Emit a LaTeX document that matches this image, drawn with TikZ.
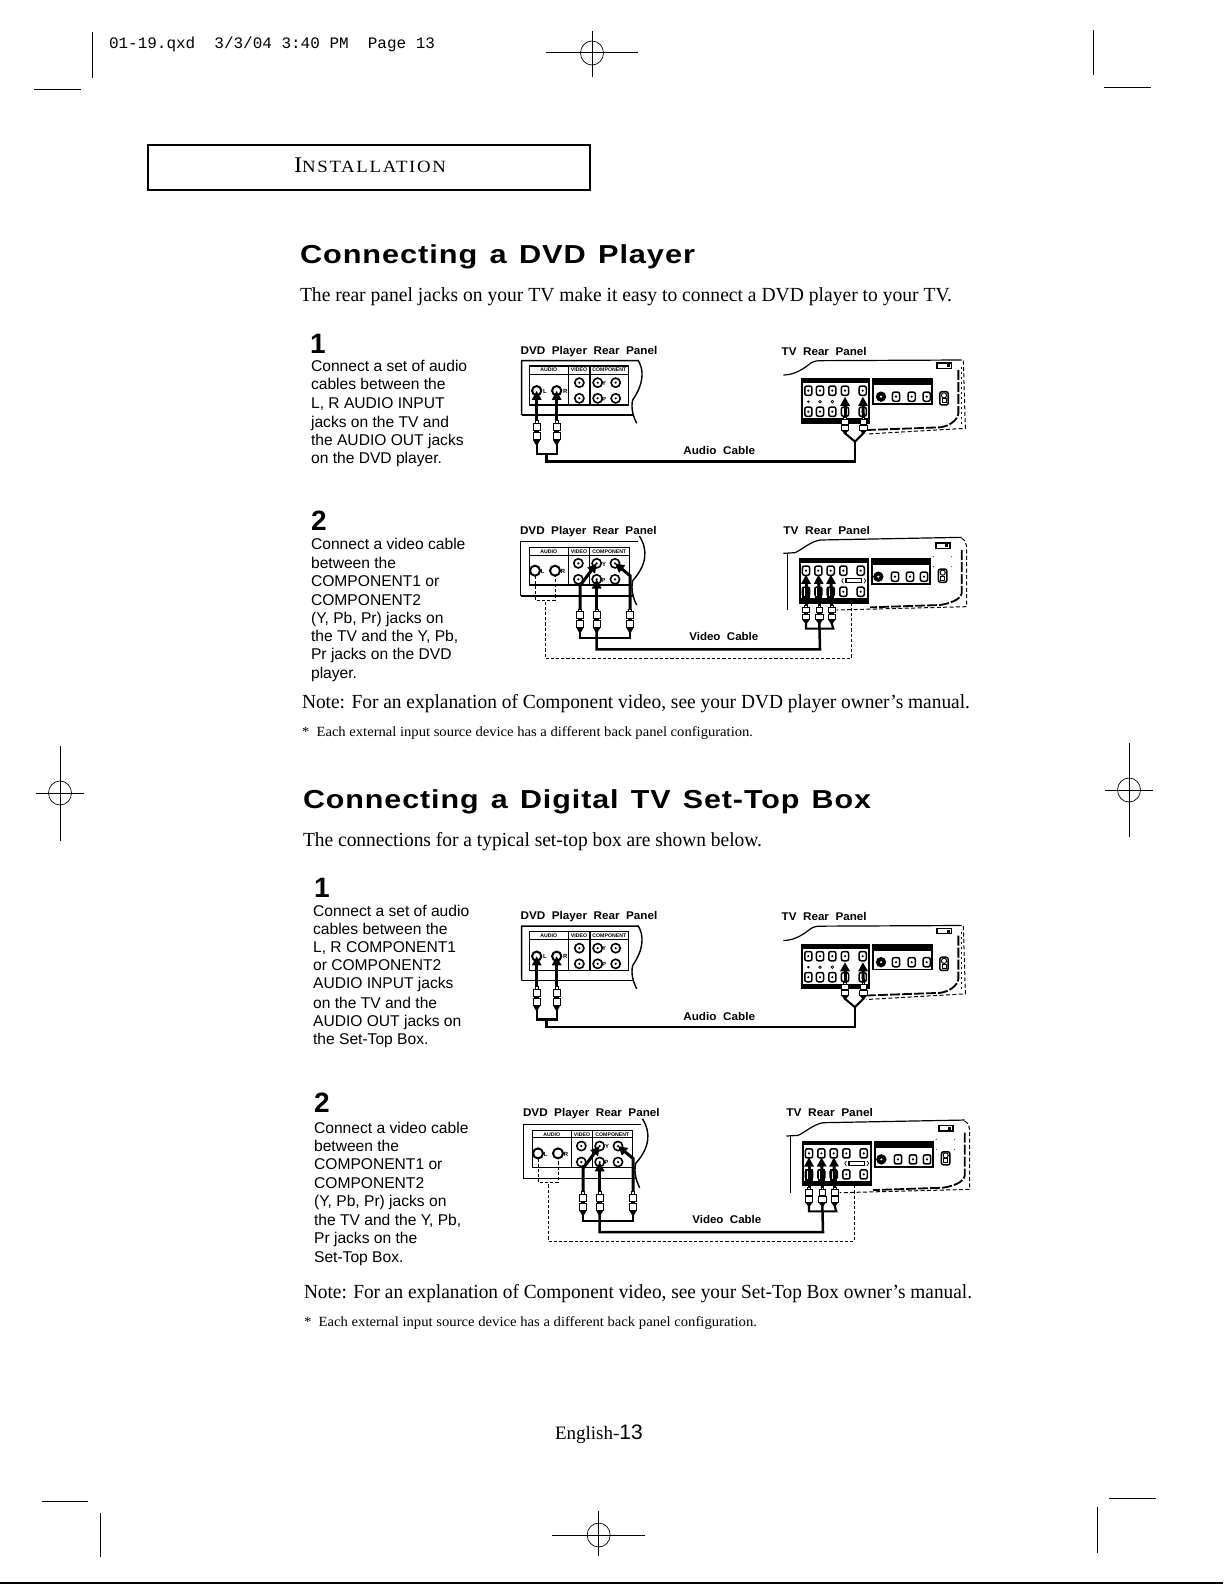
\documentclass[tikz,border=0pt]{standalone}
\usepackage{fontspec}
\usepackage{graphicx}
\usetikzlibrary{arrows.meta,shapes.geometric}
\setmainfont{Liberation Serif}
\newfontfamily\arial{Liberation Sans}
\newfontfamily\arialw[LetterSpace=3,WordSpace=1.3]{Liberation Sans}
\newfontfamily\smcf[LetterSpace=9]{Liberation Serif}
\newfontfamily\monof{Liberation Mono}
\newlength\wu \setlength\wu{0.5pt}
\tikzset{
  ln/.style={line width=0.5pt,black},
  thinln/.style={line width=0.35pt,black},
  txt/.style={anchor=base west,inner sep=0pt,outer sep=0pt,black},
  rca/.style={circle,draw=black,fill=white,line width=0.8pt,minimum size=4.6pt,inner sep=0pt,outer sep=0pt},
  rcain/.style={circle,fill=black,minimum size=1.2pt,inner sep=0pt},
  tvj/.style={rectangle,rounded corners=1pt,draw=black,fill=white,line width=0.75pt,minimum width=3.6pt,minimum height=4.6pt,inner sep=0pt,outer sep=0pt},
  plugbox/.style={rectangle,inner sep=0pt,outer sep=0pt,minimum width=3.4pt},
  plugpart/.style={draw=black,fill=white,line width=0.5pt},
  jackarrow/.style={line width=1.5pt,black,-{Triangle[width=4.6pt,length=4.6pt]}},
  cable/.style={line width=1.05pt,black,line cap=rect},
  mainc/.style={line width=1.25pt,black,line cap=rect},
  dashc/.style={line width=0.28pt,black,dash pattern=on 1.6pt off 1pt},
  jacklab/.style={inner sep=0pt,font=\arial\bfseries\fontsize{3}{3}\selectfont},
}
\newcommand{\FT}[6]{\node[txt] (#1) at (#2,#3) {\resizebox{#4\wu}{\height}{#5#6}};}
\newcommand{\SL}[4]{\node[txt] (#1) at (#2,#3) {\arial\fontsize{7.8}{9}\selectfont #4};}
\newcommand{\DG}[4]{\node[txt] (#1) at (#2,#3) {\arial\bfseries\fontsize{14}{14}\selectfont #4};}
\newcommand{\crosshair}[6]{%
  \draw[ln] (#2,#1) -- (#3,#1);
  \draw[ln] (#4,#5) -- (#4,#6);
  \draw[thinln] (#4,#1) ellipse [x radius=11.5,y radius=12];
}
% a plug: #1 name, #2 x, #3 top y, #4 body height (zoom units)
\newcommand{\plug}[4]{%
  \node[plugbox,anchor=north,minimum height=#4*0.1667pt] (#1) at (#2,#3) {};
  \draw[plugpart] (#2-4,#3) rectangle (#2+4,#3+#4*0.12);
  \draw[plugpart] (#2-10,#3+#4*0.12) rectangle (#2+10,#3+#4*0.42);
  \fill[black] (#2-7,#3+#4*0.42) rectangle (#2+7,#3+#4*0.5);
  \draw[plugpart] (#2-11,#3+#4*0.5) rectangle (#2+11,#3+#4*0.8);
  \fill[black] (#2-11,#3+#4*0.8) -- (#2-3,#3+#4) -- (#2+3,#3+#4) -- (#2+11,#3+#4*0.8) -- cycle;
}
\newcommand{\AudioDiagram}[3]{%
\begin{scope}[shift={(#2,#3)},x=0.16667pt,y=-0.16667pt]
  % DVD panel
  \draw[ln,line width=.7pt] (65,255) -- (65,92) -- (415,92) .. controls (432,120) and (432,160) .. (398,210) .. controls (392,235) and (400,260) .. (410,280);
  \draw[ln,line width=.7pt] (65,255) -- (398,255);
  \draw[line width=.7pt] (88,108) rectangle (385,225);
  \draw[line width=.45pt] (88,132) -- (385,132);
  \draw[line width=.7pt] (205,108) -- (205,225);
  \draw[line width=.7pt] (270,108) -- (270,225);
  \node[inner sep=0pt] (#1aud) at (146,120) {\arial\bfseries\fontsize{2.6}{3}\selectfont AUDIO};
  \node[inner sep=0pt] (#1vid) at (237,120) {\arial\bfseries\fontsize{2.6}{3}\selectfont VIDEO};
  \node[inner sep=0pt] (#1cmp) at (328,120) {\arial\bfseries\fontsize{2.6}{3}\selectfont COMPONENT};
  \node[rca,line width=1pt] (#1jl) at (110,182) {}; \node[rca,line width=1pt] (#1jr) at (170,182) {};
  \node[rca] (#1j1) at (238,158) {}; \node[rca] (#1j2) at (238,205) {};
  \node[rca] (#1j3) at (293,158) {}; \node[rca] (#1j4) at (293,205) {};
  \node[rca] (#1j5) at (347,158) {}; \node[rca] (#1j6) at (347,205) {};
  \foreach \q in {j1,j2,j3,j4,j5,j6}{\node[rcain] at (#1\q) {};}
  \node[jacklab] (#1lL) at (135,184) {L}; \node[jacklab] (#1lR) at (196,184) {R};
  \node[jacklab] (#1lY) at (312,160) {Y}; \node[jacklab] (#1lP) at (312,207) {P};
  % TV outline
  \draw[ln,line width=.6pt] (850,135) .. controls (880,135) and (905,120) .. (925,105) .. controls (935,96) and (945,92) .. (960,92) -- (1385,90);
  \draw[line width=.5pt,dash pattern=on 2pt off 1.2pt] (1390,92) -- (1396,295) -- (1100,312);
  \draw[line width=.9pt,dash pattern=on 5pt off 1pt] (1375,120) -- (1375,250) .. controls (1372,270) and (1350,288) .. (1320,292) -- (1100,300);
  \draw[line width=.5pt,dash pattern=on 1pt off 1.5pt] (1385,110) -- (1385,285);
  \node[draw=black,line width=.7pt,fill=white,minimum width=7.2pt,minimum height=2.6pt,inner sep=0pt] (#1ic) at (1333,107) {};
  \fill[black] (1340,102) rectangle (1350,112);
  % TV connector panels
  \draw[line width=1pt] (907,147) rectangle (1108,278);
  \fill[black] (905,145) rectangle (1110,160);
  \fill[black] (905,265) rectangle (1110,280);
  \draw[line width=.9pt] (1120,147) rectangle (1297,222);
  \fill[black] (1118,145) rectangle (1299,165);
  \foreach \n/\x in {a/925,b/960,c/997,d/1035,e/1088}{
    \node[tvj] (#1t\n) at (\x,182) {};
    \node[rcain] at (\x,182) {};
    \node[tvj] (#1u\n) at (\x,245) {};
    \node[rcain] at (\x,245) {};
  }
  \fill[black] (925,215) circle (4);
  \draw[thinln] (960,215) circle (4); \draw[thinln] (997,215) circle (4);
  \node[circle,fill=black,minimum size=5.2pt,inner sep=0pt] (#1sv) at (1143,200) {};
  \node[circle,fill=white,minimum size=1.2pt,inner sep=0pt] at (1143,200) {};
  \foreach \n/\x in {f/1188,g/1235,h/1280}{
    \node[tvj] (#1t\n) at (\x,200) {};
    \node[rcain] at (\x,200) {};
  }
  \node[tvj,minimum width=4.2pt,minimum height=6.6pt] (#1pw) at (1332,205) {};
  \node[circle,draw=black,line width=.5pt,minimum size=2.6pt,inner sep=0pt] at (1332,196) {};
  \node[rectangle,draw=black,line width=.5pt,minimum size=2pt,inner sep=0pt] at (1332,212) {};
  % plugs
  \plug{#1pl}{110}{272}{72}
  \plug{#1pr}{170}{272}{72}
  \plug{#1pa}{1035}{262}{48}
  \plug{#1pb}{1090}{262}{48}
  % arrows
  \draw[jackarrow] (#1pl.north) -- (#1jl.center);
  \draw[jackarrow] (#1pr.north) -- (#1jr.center);
  \draw[jackarrow,shorten >=3pt] (#1pa.north) -- (#1td.center);
  \draw[jackarrow,shorten >=3pt] (#1pb.north) -- (#1te.center);
  % cable
  \coordinate (#1dj) at (140,372);
  \coordinate (#1tj) at (1065,335);
  \draw[cable] (#1pl.south) |- (#1dj) -| (#1pr.south);
  \draw[cable] (#1pa.south) -- (#1tj) -- (#1pb.south);
  \draw[mainc] (#1dj) |- (#1tj |- 0,395) -- (#1tj);
  % labels
  \FT{#1la}{62}{72}{136.7}{\arial\bfseries\fontsize{5.6}{6}\selectfont}{DVD~~Player~~Rear~~Panel}
  \FT{#1lb}{845}{75}{85}{\arial\bfseries\fontsize{5.6}{6}\selectfont}{TV~~Rear~~Panel}
  \FT{#1lc}{550}{374}{71.7}{\arial\bfseries\fontsize{5.6}{6}\selectfont}{Audio~~Cable}
\end{scope}}
\newcommand{\VideoDiagram}[3]{%
\begin{scope}[shift={(#2,#3)},x=0.16667pt,y=-0.16667pt]
  \draw[ln,line width=.7pt] (62,258) -- (62,95) -- (415,95);
  \draw[ln,line width=.7pt] (418,78) .. controls (445,120) and (440,165) .. (398,212) .. controls (392,240) and (400,265) .. (410,285);
  \draw[ln,line width=.7pt] (62,258) -- (398,258);
  \draw[line width=.7pt] (88,113) rectangle (388,225);
  \draw[line width=.45pt] (88,135) -- (388,135);
  \draw[line width=.7pt] (205,113) -- (205,225);
  \draw[line width=.7pt] (268,113) -- (268,225);
  \node[inner sep=0pt] (#1aud) at (146,125) {\arial\bfseries\fontsize{2.6}{3}\selectfont AUDIO};
  \node[inner sep=0pt] (#1vid) at (237,125) {\arial\bfseries\fontsize{2.6}{3}\selectfont VIDEO};
  \node[inner sep=0pt] (#1cmp) at (328,125) {\arial\bfseries\fontsize{2.6}{3}\selectfont COMPONENT};
  \node[rca,minimum size=5pt,line width=1pt] (#1jl) at (105,182) {}; \node[rca,minimum size=5pt,line width=1pt] (#1jr) at (165,182) {};
  \node[rca] (#1j1) at (235,160) {}; \node[rca] (#1j2) at (235,208) {};
  \node[rca] (#1j3) at (290,160) {}; \node[rca] (#1j4) at (290,208) {};
  \node[rca] (#1j5) at (345,160) {}; \node[rca] (#1j6) at (345,208) {};
  \foreach \q in {j1,j2,j3,j4,j5,j6}{\node[rcain] at (#1\q) {};}
  \node[jacklab] (#1lL) at (128,184) {L}; \node[jacklab] (#1lR) at (189,184) {R};
  \node[jacklab] (#1lY) at (312,162) {Y}; \node[jacklab] (#1lP) at (310,210) {P};
  % TV outline
  \draw[ln,line width=.6pt] (850,130) -- (885,128) .. controls (905,120) and (930,95) .. (960,90) -- (1385,82);
  \draw[ln,line width=.8pt] (862,130) -- (862,300);
  \draw[line width=.5pt,dash pattern=on 2pt off 1.2pt] (1385,85) .. controls (1395,90) and (1400,100) .. (1400,120) -- (1400,290) -- (1010,300);
  \draw[line width=.9pt,dash pattern=on 5pt off 1pt] (1385,120) -- (1385,250) .. controls (1380,270) and (1350,280) .. (1320,285) -- (1110,292);
  \node[draw=black,line width=.7pt,fill=white,minimum width=7pt,minimum height=2.6pt,inner sep=0pt] (#1ic) at (1329,107) {};
  \fill[black] (1335,102) rectangle (1345,112);
  \foreach \y in {140,170}{\fill[black] (1300,\y) circle (1.5); \fill[black] (1355,\y) circle (1.5);}
  % TV connector panels
  \draw[line width=1pt] (899,147) rectangle (1105,278);
  \fill[black] (897,145) rectangle (1107,158);
  \fill[black] (897,265) rectangle (1107,280);
  \draw[line width=.9pt] (1117,147) rectangle (1290,222);
  \fill[black] (1115,145) rectangle (1292,165);
  \foreach \n/\x in {a/918,b/955,c/992,d/1030,e/1082}{
    \node[tvj] (#1t\n) at (\x,182) {};
    \node[rcain] at (\x,182) {};
    \node[tvj] (#1u\n) at (\x,245) {};
    \node[rcain] at (\x,245) {};
  }
  \foreach \x in {918,955,992}{\fill[black] (\x-11,230) rectangle (\x+11,265);\fill[white] (\x-6,235) rectangle (\x-3,258);}
  \draw[line width=.6pt] (1038,206) rectangle (1085,218);
  \draw[thinln] (1030,205) -- (1025,212) -- (1030,220);
  \draw[thinln] (1092,205) -- (1097,212) -- (1092,220);
  \node[circle,fill=black,minimum size=5.2pt,inner sep=0pt] (#1sv) at (1135,200) {};
  \node[circle,fill=white,minimum size=1.2pt,inner sep=0pt] at (1135,200) {};
  \foreach \n/\x in {f/1185,g/1230,h/1272}{
    \node[tvj] (#1t\n) at (\x,200) {};
    \node[rcain] at (\x,200) {};
  }
  \node[tvj,minimum width=4.2pt,minimum height=6.6pt] (#1pw) at (1328,197) {};
  \node[circle,draw=black,line width=.5pt,minimum size=2.6pt,inner sep=0pt] at (1328,188) {};
  \node[rectangle,draw=black,line width=.5pt,minimum size=2pt,inner sep=0pt] at (1328,204) {};
  % thin dashed loop
  \coordinate (#1da) at (105,270);
  \coordinate (#1db) at (165,270);
  \coordinate (#1dc) at (135,275);
  \coordinate (#1dd) at (1055,272);
  \draw[dashc] (#1jl.south) -- (#1da) -- (#1db) -- (#1jr.south);
  \draw[dashc] (#1dc) -- (135,445) -- (1055,445) -- (#1dd);
  % plugs
  \plug{#1pl}{240}{297}{70}
  \plug{#1pm}{290}{297}{70}
  \plug{#1pr}{390}{297}{70}
  \plug{#1pa}{918}{285}{55}
  \plug{#1pb}{958}{285}{55}
  \plug{#1pc}{995}{285}{55}
  % arrows
  \draw[jackarrow] (#1pl.north) -- ++(0,-70) -- (#1j3.center);
  \draw[jackarrow] (#1pm.north) -- (#1j4.center);
  \draw[jackarrow] (#1pr.north) -- ++(0,-100) -- (#1j5.center);
  \draw[jackarrow,shorten >=2pt] (#1pa.north) -- (#1ta.center);
  \draw[jackarrow,shorten >=2pt] (#1pb.north) -- (#1tb.center);
  \draw[jackarrow,shorten >=2pt] (#1pc.north) -- (#1tc.center);
  % cables
  \draw[cable] (#1pl.south) |- (390,385) -- (#1pr.south);
  \draw[cable] (#1pa.south) |- (1000,356) -- (#1pc.south);
  \draw[mainc] (#1pm.south) |- (960,418) -- (#1pb.south);
  % labels
  \FT{#1la}{60}{72}{136.7}{\arial\bfseries\fontsize{5.6}{6}\selectfont}{DVD~~Player~~Rear~~Panel}
  \FT{#1lb}{850}{72}{86.7}{\arial\bfseries\fontsize{5.6}{6}\selectfont}{TV~~Rear~~Panel}
  \FT{#1lc}{568}{392}{69}{\arial\bfseries\fontsize{5.6}{6}\selectfont}{Video~~Cable}
\end{scope}}
\begin{document}
\begin{tikzpicture}[x=0.5pt,y=-0.5pt]
\useasboundingbox (0,0) rectangle (1223,1584);
\fill[white] (0,0) rectangle (1223,1584);
% printer marks
\draw[ln] (92.4,32) -- (92.4,78);
\draw[ln] (34,90) -- (81,90);
\draw[ln] (1093,30) -- (1093,75);
\draw[ln] (1104,88) -- (1151,88);
\draw[ln] (42,1501) -- (88,1501);
\draw[ln] (100.4,1513) -- (100.4,1557);
\draw[ln] (1109,1498) -- (1156,1498);
\draw[ln] (1097,1507) -- (1097,1553);
\crosshair{53}{545.5}{638}{592}{31}{77}
\crosshair{793}{36}{84}{60}{746}{841}
\crosshair{790}{1105}{1153}{1129}{743}{837}
\crosshair{1535}{552}{645}{598.7}{1511}{1556}
\draw[line width=1pt] (0,1582.6) -- (1223,1582.6);
\FT{slug}{109}{49}{326}{\monof\fontsize{8}{9}\selectfont}{01-19.qxd~~3/3/04~3:40~PM~~Page~13}
% header
\draw[line width=1pt] (147.5,145) rectangle (590,190);
\FT{hdr}{294}{172.7}{152}{\smcf\fontsize{11.2}{12}\selectfont}{I{\fontsize{8.6}{9}\selectfont NSTALLATION}}
% headings and body
\FT{h1}{300}{263}{395}{\arialw\bfseries\fontsize{13}{14}\selectfont}{Connecting a DVD Player}
\FT{b1}{300}{301.7}{652}{\fontsize{10}{12}\selectfont}{The rear panel jacks on your TV make it easy to connect a DVD player to your TV.}
\FT{n1}{302}{708}{668}{\fontsize{10}{12}\selectfont}{Note: For an explanation of Component video, see your DVD player owner's manual.}
\FT{f1}{302}{736.7}{451}{\fontsize{7}{8}\selectfont}{*~~Each external input source device has a different back panel configuration.}
\FT{h2}{303}{808}{568}{\arialw\bfseries\fontsize{13}{14}\selectfont}{Connecting a Digital TV Set-Top Box}
\FT{b2}{303}{846}{459}{\fontsize{10}{12}\selectfont}{The connections for a typical set-top box are shown below.}
\FT{n2}{304}{1298}{668}{\fontsize{10}{12}\selectfont}{Note: For an explanation of Component video, see your Set-Top Box owner's manual.}
\FT{f2}{304}{1326}{453}{\fontsize{7}{8}\selectfont}{*~~Each external input source device has a different back panel configuration.}
\node[txt] (pg) at (555,1439) {\fontsize{9.5}{10}\selectfont English-{\arial\fontsize{10.5}{11}\selectfont 13}};
% step text, in the shrunk view's units
\begin{scope}[x=0.505pt,y=-0.505pt]
\DG{d1}{307}{350}{1}
\SL{a1}{308}{368}{Connect a set of audio}
\SL{a2}{308}{386}{cables between the}
\SL{a3}{308}{404}{L, R AUDIO INPUT}
\SL{a4}{308}{423}{jacks on the TV and}
\SL{a5}{308}{441}{the AUDIO OUT jacks}
\SL{a6}{308}{459}{on the DVD player.}
\DG{d2}{308}{525}{2}
\SL{b1l}{308}{544}{Connect a video cable}
\SL{b2l}{308}{563}{between the}
\SL{b3l}{308}{581}{COMPONENT1 or}
\SL{b4l}{308}{599}{COMPONENT2}
\SL{b5l}{308}{617}{(Y, Pb, Pr) jacks on}
\SL{b6l}{308}{635}{the TV and the Y, Pb,}
\SL{b7l}{308}{653}{Pr jacks on the DVD}
\SL{b8l}{308}{672}{player.}
\DG{d3}{311}{889}{1}
\SL{c1}{310}{907}{Connect a set of audio}
\SL{c2}{310}{925}{cables between the}
\SL{c3}{310}{943}{L, R COMPONENT1}
\SL{c4}{310}{961}{or COMPONENT2}
\SL{c5}{310}{979}{AUDIO INPUT jacks}
\SL{c6}{310}{998}{on the TV and the}
\SL{c7}{310}{1016}{AUDIO OUT jacks on}
\SL{c8}{310}{1034}{the Set-Top Box.}
\DG{d4}{311}{1101}{2}
\SL{e1}{311}{1122}{Connect a video cable}
\SL{e2}{311}{1140}{between the}
\SL{e3}{311}{1158}{COMPONENT1 or}
\SL{e4}{311}{1177}{COMPONENT2}
\SL{e5}{311}{1195}{(Y, Pb, Pr) jacks on}
\SL{e6}{311}{1213}{the TV and the Y, Pb,}
\SL{e7}{311}{1231}{Pr jacks on the}
\SL{e8}{311}{1250}{Set-Top Box.}
\end{scope}
\AudioDiagram{A}{500}{330}
\VideoDiagram{V}{500}{510}
\AudioDiagram{B}{500}{895.5}
\VideoDiagram{W}{503}{1092.7}
\end{tikzpicture}
\end{document}
